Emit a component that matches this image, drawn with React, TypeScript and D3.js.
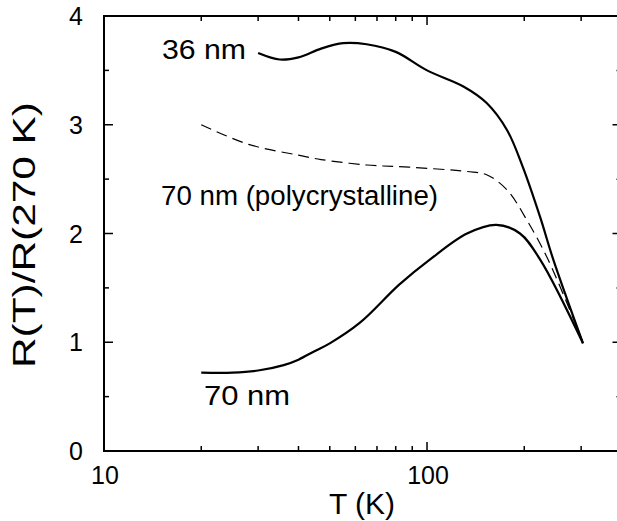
import React from "react";
import * as d3 from "d3";

const T36 = [30, 35, 40, 47, 55, 65, 80, 100, 130, 153, 177, 198, 224, 246, 304];
const R36 = [3.66, 3.6, 3.62, 3.7, 3.75, 3.74, 3.67, 3.5, 3.35, 3.2, 2.95, 2.61, 2.15, 1.76, 0.99];

const TPoly = [20, 28, 40, 47, 65, 88, 133, 153, 177, 204, 237, 304];
const RPoly = [3.0, 2.82, 2.72, 2.68, 2.63, 2.61, 2.57, 2.54, 2.4, 2.12, 1.76, 1.0];

const T70 = [20, 25, 30, 36, 40, 45, 50, 62, 82, 102, 133, 164, 194, 224, 304];
const R70 = [0.72, 0.72, 0.74, 0.79, 0.84, 0.92, 0.99, 1.18, 1.53, 1.76, 2.0, 2.08, 2.0, 1.76, 0.99];

const xMajor = [10, 100];
const yTickLabels = ["0", "1", "2", "3", "4"];

const W = 617;
const H = 521;
const FONT = "'Liberation Sans', Arial, Helvetica, sans-serif";

export default function App() {
  const x = d3.scaleLog().domain([10, 400]).range([104, 621.5]);
  const y = d3.scaleLinear().domain([0, 4]).range([451, 16]);

  const mk = (ts: number[], rs: number[]) =>
    d3
      .line<number>()
      .x((_, i) => x(ts[i]))
      .y((d) => y(d))
      .curve(d3.curveCatmullRom.alpha(0.5))(rs) || "";

  const xTicks = x.ticks();
  const yTicks = y.ticks(8);
  const x0 = x.range()[0];
  const x1 = x.range()[1];
  const y0 = y.range()[0];
  const y1 = y.range()[1];

  return (
    <svg
      width={W}
      height={H}
      style={{ position: "absolute", left: 0, top: 0, background: "#fff" }}
      fontFamily={FONT}
    >
      <rect x={0} y={0} width={W} height={H} fill="#fff" />
      {/* frame */}
      <g stroke="#000" strokeWidth={2} fill="none">
        <line x1={x0} y1={y1} x2={x0} y2={y0} />
        <line x1={x0 - 1} y1={y0} x2={x1} y2={y0} />
        <line x1={x0 - 1} y1={y1} x2={x1} y2={y1} />
        <line x1={x1} y1={y1} x2={x1} y2={y0} />
      </g>
      {/* ticks */}
      <g stroke="#000" strokeWidth={1.5}>
        {xTicks.map((t, i) => {
          const major = xMajor.includes(t);
          const len = major ? 9 : 5;
          return (
            <g key={"xt" + i}>
              <line x1={x(t)} x2={x(t)} y1={y0} y2={y0 - len} />
              <line x1={x(t)} x2={x(t)} y1={y1} y2={y1 + len} />
            </g>
          );
        })}
        {yTicks.map((t, i) => {
          const major = Number.isInteger(t);
          const len = major ? 9 : 5;
          return (
            <g key={"yt" + i}>
              <line x1={x0} x2={x0 + len} y1={y(t)} y2={y(t)} />
              <line x1={x1} x2={x1 - len} y1={y(t)} y2={y(t)} />
            </g>
          );
        })}
      </g>
      {/* tick labels */}
      <g fontSize={25} fill="#000">
        {yTickLabels.map((s, i) => (
          <text key={"yl" + i} x={83} y={y(+s)} dy="0.36em" textAnchor="end">
            {s}
          </text>
        ))}
        {xMajor.map((t, i) => (
          <text key={"xl" + i} x={x(t) + 1} y={484} textAnchor="middle">
            {String(t)}
          </text>
        ))}
      </g>
      {/* axis titles */}
      <text x={362} y={514} fontSize={30} textAnchor="middle">
        T (K)
      </text>
      <text
        transform="translate(35,235) rotate(-90)"
        fontSize={31}
        textAnchor="middle"
        textLength={266}
        lengthAdjust="spacingAndGlyphs"
      >
        R(T)/R(270 K)
      </text>
      {/* curves */}
      <path d={mk(T36, R36)} fill="none" stroke="#000" strokeWidth={2.2} />
      <path d={mk(T70, R70)} fill="none" stroke="#000" strokeWidth={2.2} />
      <path
        d={mk(TPoly, RPoly)}
        fill="none"
        stroke="#000"
        strokeWidth={1.2}
        strokeDasharray="11 6"
      />
      {/* annotations */}
      <g fontSize={28} fill="#000">
        <text x={162} y={59} textLength={84} lengthAdjust="spacingAndGlyphs">
          36 nm
        </text>
        <text x={161} y={205} fontSize={27} textLength={277} lengthAdjust="spacingAndGlyphs">
          70 nm (polycrystalline)
        </text>
        <text x={204} y={405} textLength={86} lengthAdjust="spacingAndGlyphs">
          70 nm
        </text>
      </g>
    </svg>
  );
}
